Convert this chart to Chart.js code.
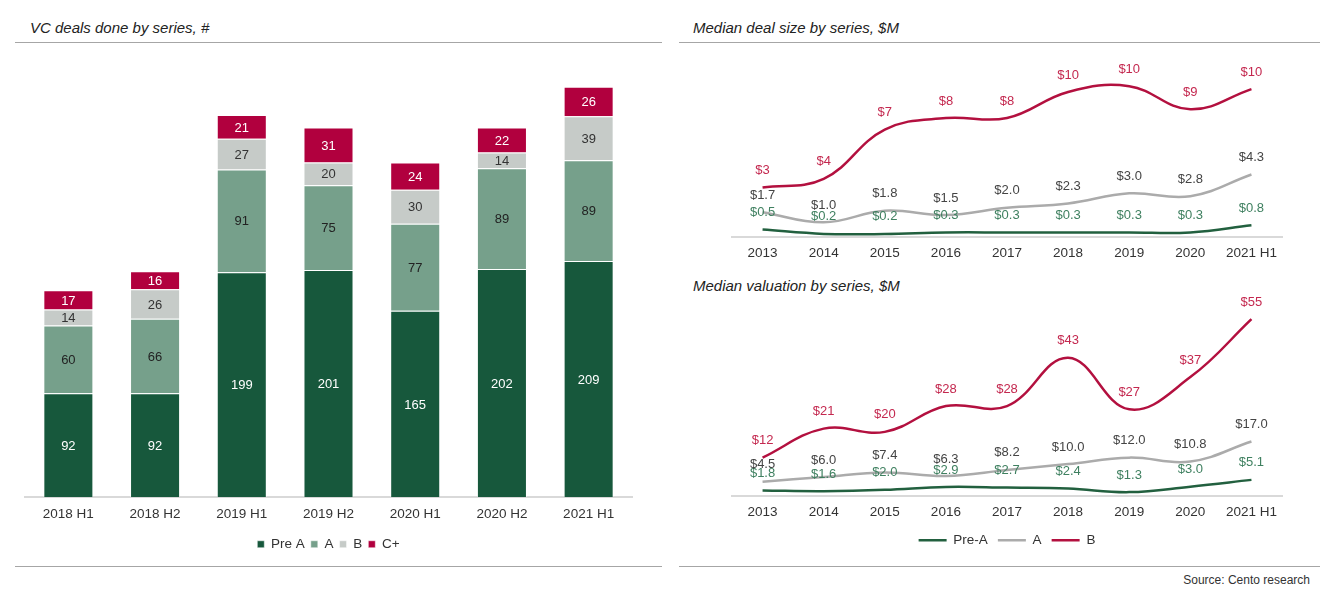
<!DOCTYPE html>
<html>
<head>
<meta charset="utf-8">
<script src="https://cdn.jsdelivr.net/npm/chart.js@4.4.1/dist/chart.umd.min.js"></script>
<style>
  body { margin: 0; background: #fff; font-family: "Liberation Sans", Arial, sans-serif; }
  #page { position: relative; width: 1320px; height: 590px; overflow: hidden; }
  .title { position: absolute; font-size: 15px; font-style: italic; color: #222; }
  .rule { position: absolute; height: 0; border-top: 1px solid #a6a6a6; }
  canvas { position: absolute; }
  #src { position: absolute; right: 10px; top: 573px; font-size: 12px; color: #333; }
</style>
</head>
<body>
<div id="page">
  <div class="title" style="left:30px; top:19px;">VC deals done by series, #</div>
  <div class="rule" style="left:15px; top:42px; width:647px;"></div>
  <div class="rule" style="left:15px; top:566px; width:647px;"></div>

  <div class="title" style="left:693px; top:19px;">Median deal size by series, $M</div>
  <div class="rule" style="left:679px; top:42px; width:641px;"></div>
  <div class="title" style="left:693px; top:277px;">Median valuation by series, $M</div>
  <div class="rule" style="left:679px; top:566px; width:641px;"></div>
  <div id="src">Source: Cento research</div>

  <canvas id="bars" width="630" height="516" style="left:15px; top:45px;"></canvas>
  <canvas id="deal" width="610" height="214" style="left:700px; top:55px;"></canvas>
  <canvas id="valuation" width="610" height="267" style="left:700px; top:295px;"></canvas>
</div>
<script>
// deals done per half-year
const barCategories = ['2018 H1', '2018 H2', '2019 H1', '2019 H2', '2020 H1', '2020 H2', '2021 H1'];
const dealsPreA = [92, 92, 199, 201, 165, 202, 209];
const dealsA = [60, 66, 91, 75, 77, 89, 89];
const dealsB = [14, 26, 27, 20, 30, 14, 39];
const dealsC = [17, 16, 21, 31, 24, 22, 26];

// median deal size / valuation, $M
const years = ['2013', '2014', '2015', '2016', '2017', '2018', '2019', '2020', '2021 H1'];
const sizePreA = [0.5, 0.2, 0.2, 0.3, 0.3, 0.3, 0.3, 0.3, 0.8];
const sizeA = [1.7, 1.0, 1.8, 1.5, 2.0, 2.3, 3.0, 2.8, 4.3];
const sizeB = [3.4, 4.0, 7.4, 8.2, 8.2, 10.0, 10.4, 8.8, 10.2];
const valPreA = [1.8, 1.6, 2.0, 2.9, 2.7, 2.4, 1.3, 3.0, 5.1];
const valA = [4.5, 6.0, 7.4, 6.3, 8.2, 10.0, 12.0, 10.8, 17.0];
const valB = [12, 21, 20, 28, 28, 43, 27, 37, 55];

const FONT = "'Liberation Sans', Arial, sans-serif";
const green = '#17583c', lightGreen = '#76a08b', grey = '#c6cbc8', red = '#b1003e';

// simple data label drawing, no extra plugin available
const valueLabels = {
  id: 'valueLabels',
  afterDatasetsDraw(chart) {
    const ctx = chart.ctx;
    ctx.save();
    ctx.font = '13px ' + FONT;
    ctx.textAlign = 'center';
    ctx.textBaseline = 'middle';
    chart.data.datasets.forEach((ds, i) => {
      const meta = chart.getDatasetMeta(i);
      if (meta.hidden) return;
      ctx.fillStyle = ds.labelColor;
      meta.data.forEach((el, j) => {
        const v = ds.data[j];
        let y;
        if (meta.type === 'bar') y = (el.y + el.base) / 2;
        else y = el.y - 18;
        ctx.fillText(ds.fmt ? ds.fmt(v) : v, el.x, y + 1);
      });
    });
    ctx.restore();
  }
};

// pull the legend a bit closer to the axis
const legendNudge = {
  id: 'legendNudge',
  afterLayout(chart, args, opts) {
    if (!chart.legend || !opts.dy) return;
    chart.legend.top += opts.dy;
    chart.legend.bottom += opts.dy;
  }
};

new Chart(document.getElementById('bars'), {
  type: 'bar',
  data: {
    labels: barCategories,
    datasets: [
      { label: 'Pre A', data: dealsPreA, backgroundColor: green, labelColor: '#fff' },
      { label: 'A', data: dealsA, backgroundColor: lightGreen, labelColor: '#222' },
      { label: 'B', data: dealsB, backgroundColor: grey, labelColor: '#333' },
      { label: 'C+', data: dealsC, backgroundColor: red, labelColor: '#fff' }
    ].map(d => Object.assign(d, { borderColor: 'rgba(255,255,255,0.5)', borderWidth: 1, barPercentage: 1, categoryPercentage: 0.577 }))
  },
  options: {
    responsive: false,
    animation: false,
    layout: { padding: { left: 10, right: 13, top: 0, bottom: 0 } },
    scales: {
      x: {
        stacked: true,
        grid: { display: false, drawTicks: false },
        border: { display: true, color: '#d9d9d9', width: 2 },
        ticks: { color: '#333', font: { size: 13.5, family: FONT }, padding: 9 }
      },
      y: { stacked: true, display: false, min: 0, max: 400 }
    },
    plugins: {
      legend: {
        position: 'bottom',
        labels: { boxWidth: 7, boxHeight: 7, padding: 6, color: '#333', font: { size: 13.5, family: FONT } }
      },
      tooltip: { enabled: false }
    }
  },
  plugins: [valueLabels]
});

function lineSet(label, data, color, labelColor, fmt) {
  return {
    label: label, data: data, borderColor: color, backgroundColor: color,
    borderWidth: 2.5, tension: 0.4, pointRadius: 0, clip: false,
    labelColor: labelColor, fmt: fmt
  };
}
const oneDec = v => '$' + v.toFixed(1);
const noDec = v => '$' + Math.round(v);

function lineOptions(ymax, showLegend) {
  return {
    responsive: false,
    animation: false,
    layout: { padding: { left: 32, right: 28, top: 8, bottom: 0 } },
    scales: {
      x: {
        offset: true,
        grid: { display: false, drawTicks: false },
        border: { display: true, color: '#d9d9d9', width: 2 },
        ticks: { color: '#333', font: { size: 13.5, family: FONT }, padding: 8 }
      },
      y: { display: false, min: 0, max: ymax }
    },
    plugins: {
      legend: {
        display: showLegend,
        position: 'bottom',
        labels: { usePointStyle: true, pointStyle: 'line', pointStyleWidth: 28, padding: 10, color: '#333', font: { size: 13.5, family: FONT } }
      },
      legendNudge: { dy: -5 },
      tooltip: { enabled: false }
    }
  };
}

new Chart(document.getElementById('deal'), {
  type: 'line',
  data: {
    labels: years,
    datasets: [
      lineSet('Pre-A', sizePreA, '#22603f', '#3f8060', oneDec),
      lineSet('A', sizeA, '#ababab', '#444', oneDec),
      lineSet('B', sizeB, '#b3103f', '#c4284f', noDec)
    ]
  },
  options: lineOptions(12, false),
  plugins: [valueLabels]
});

new Chart(document.getElementById('valuation'), {
  type: 'line',
  data: {
    labels: years,
    datasets: [
      lineSet('Pre-A', valPreA, '#22603f', '#3f8060', oneDec),
      lineSet('A', valA, '#ababab', '#444', oneDec),
      lineSet('B', valB, '#b3103f', '#c4284f', noDec)
    ]
  },
  options: lineOptions(60, true),
  plugins: [valueLabels, legendNudge]
});
</script>
</body>
</html>
